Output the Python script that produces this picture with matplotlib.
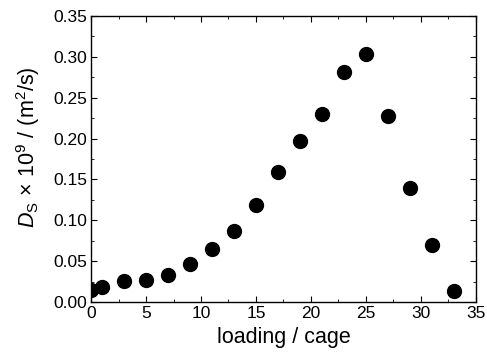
import matplotlib
matplotlib.use("Agg")
import matplotlib.pyplot as plt
from matplotlib.ticker import MultipleLocator, FormatStrFormatter

plt.rcParams["font.family"] = ["Liberation Sans", "DejaVu Sans"]
plt.rcParams["mathtext.fontset"] = "custom"
plt.rcParams["mathtext.rm"] = "Liberation Sans"
plt.rcParams["mathtext.it"] = "Liberation Sans:italic"

# loading per cage and self-diffusivity (1e-9 m^2/s)
loading = [0, 1, 3, 5, 7, 9, 11, 13, 15, 17, 19, 21, 23, 25, 27, 29, 31, 33]
d_self = [0.015, 0.018, 0.026, 0.027, 0.033, 0.047, 0.065, 0.087, 0.119, 0.159,
          0.197, 0.230, 0.281, 0.304, 0.228, 0.140, 0.070, 0.014]

fig = plt.figure(figsize=(4.87, 3.54), dpi=100)
ax = fig.add_axes([0.187, 0.147, 0.79, 0.808])

ax.plot(loading, d_self, "o", color="black", markersize=10, linestyle="none")

ax.set_xlim(0, 35)
ax.set_ylim(0, 0.35)
ax.xaxis.set_major_locator(MultipleLocator(5))
ax.xaxis.set_minor_locator(MultipleLocator(2.5))
ax.yaxis.set_major_locator(MultipleLocator(0.05))
ax.yaxis.set_minor_locator(MultipleLocator(0.025))
ax.yaxis.set_major_formatter(FormatStrFormatter("%.2f"))
ax.tick_params(which="both", direction="in", top=True, right=True,
               labeltop=False, labelright=False, labelsize=12.5)
ax.tick_params(which="major", length=4, pad=3)
ax.tick_params(which="minor", length=2.5)
for s in ax.spines.values():
    s.set_linewidth(1.0)

ax.set_xlabel("loading / cage", fontsize=15.5, labelpad=4)
ax.set_ylabel(r"$D_\mathregular{S}\,\times\,\mathregular{10^9}$ / (m$^\mathregular{2}$/s)",
              fontsize=15.5, labelpad=8)
ax.yaxis.label.set_y(0.54)

fig.savefig("out.png", dpi=100)
